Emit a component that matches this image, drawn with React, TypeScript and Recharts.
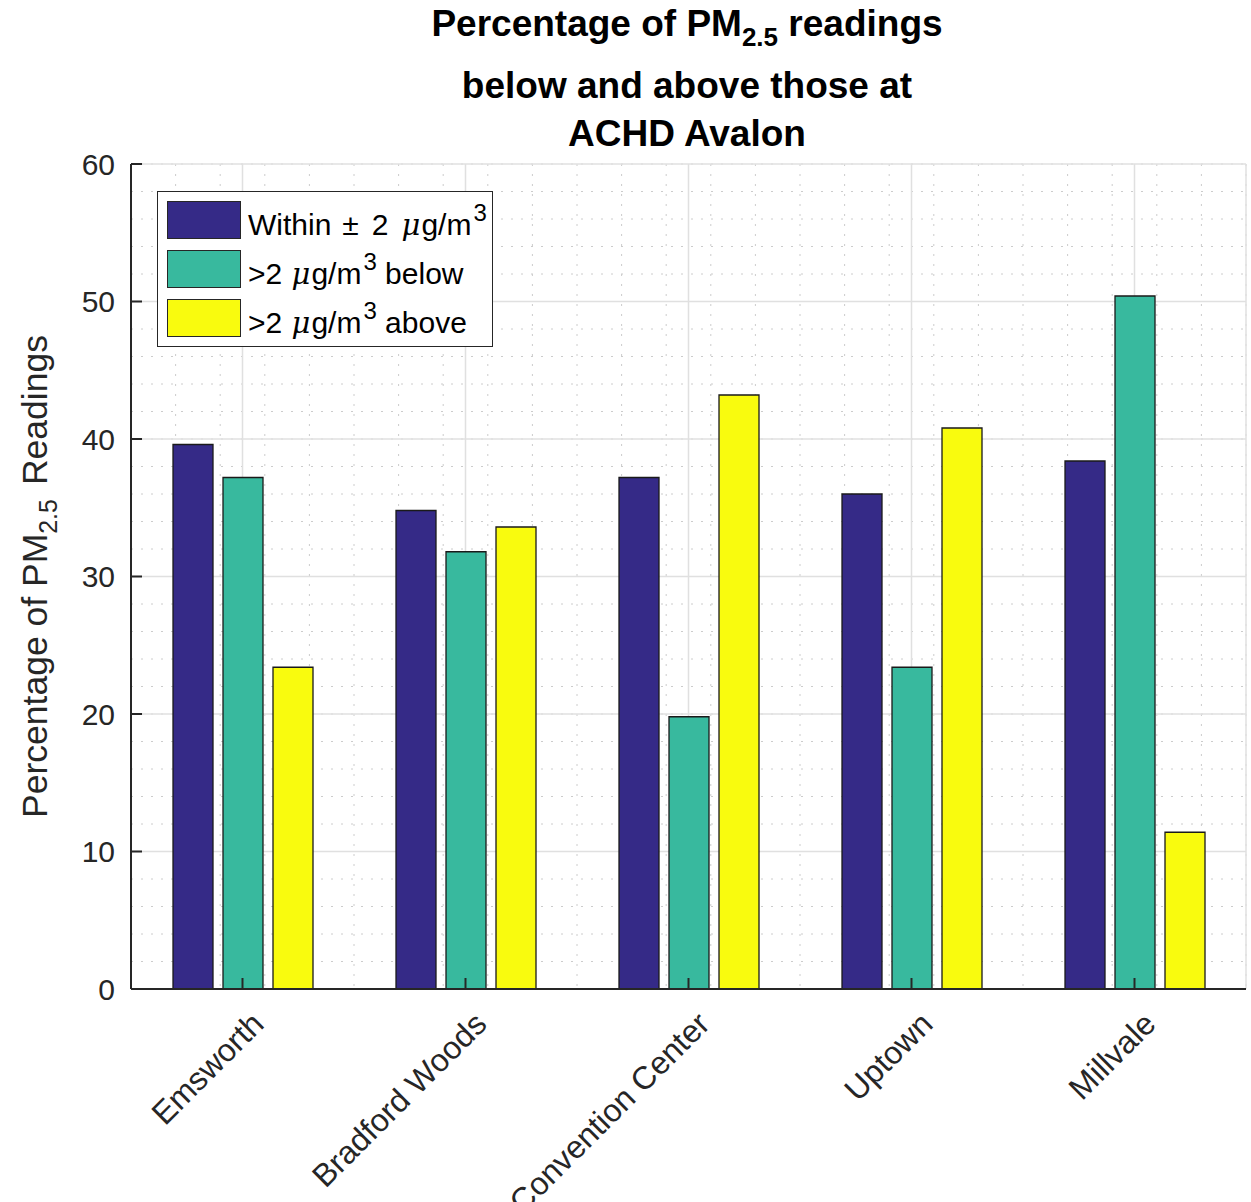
import React from 'react';
import { BarChart, Bar, XAxis, YAxis, CartesianGrid, Legend } from 'recharts';

const sites = ['Emsworth', 'Bradford Woods', 'Convention Center', 'Uptown', 'Millvale'];
const withinVals = [39.6, 34.8, 37.2, 36.0, 38.4];
const belowVals = [37.2, 31.8, 19.8, 23.4, 50.4];
const aboveVals = [23.4, 33.6, 43.2, 40.8, 11.4];
const yTicks = [0, 10, 20, 30, 40, 50, 60];

const FONT = '"Liberation Sans", Arial, Helvetica, sans-serif';
const AXIS = '#262626';
const COLORS = { within: '#352A87', below: '#38B99E', above: '#F9FB0E' };

const data = sites.map((site, i) => ({
  site,
  within: withinVals[i],
  below: belowVals[i],
  above: aboveVals[i],
}));

// minor dotted grid: 5 per category, 5 per major y step
const minorX = ({ offset }: any) =>
  Array.from({ length: 26 }, (_, k) => offset.left + (offset.width * k) / 25);
const minorY = ({ offset }: any) =>
  Array.from({ length: 31 }, (_, k) => offset.top + (offset.height * k) / 30);

const XTick = ({ x, y, payload }: any) => (
  <text
    transform={`translate(${x + 23},${y + 37}) rotate(-45)`}
    textAnchor="end"
    fontSize={32}
    fontFamily={FONT}
    fill={AXIS}
  >
    {payload.value}
  </text>
);

const YLabel = ({ viewBox }: any) => {
  const cx = viewBox.x - 24;
  const cy = viewBox.y + viewBox.height / 2;
  return (
    <text
      x={cx}
      y={cy}
      transform={`rotate(-90, ${cx}, ${cy})`}
      textAnchor="middle"
      fontSize={35.5}
      fontFamily={FONT}
      fill={AXIS}
    >
      Percentage of PM<tspan fontSize={25} dy={10}>2.5</tspan>
      <tspan dy={-10} dx={14}>Readings</tspan>
    </text>
  );
};

const Unit = () => (
  <>
    <i style={{ fontFamily: '"DejaVu Serif", serif', fontSize: 29, marginLeft: 1, marginRight: 1 }}>μ</i>g/m
    <span style={{ fontSize: 24, position: 'relative', top: -14, marginLeft: 2 }}>3</span>
  </>
);

const legendRows = [
  {
    key: 'within',
    label: (
      <>
        Within<span style={{ margin: '0 13px 0 11px' }}>±</span>2<span style={{ marginLeft: 12 }} />
        <Unit />
      </>
    ),
  },
  { key: 'below', label: <>&gt;2 <Unit /> below</> },
  { key: 'above', label: <>&gt;2 <Unit /> above</> },
];

const LegendBox = () => (
  <div
    style={{
      width: 336,
      height: 156,
      boxSizing: 'border-box',
      border: `1.5px solid ${AXIS}`,
      background: '#fff',
      position: 'relative',
      fontFamily: FONT,
      fontSize: 30,
      color: '#000',
    }}
  >
    {legendRows.map((r, i) => (
      <div key={r.key} style={{ position: 'absolute', left: 9, top: 9 + i * 49 }}>
        <div
          style={{
            position: 'absolute',
            left: 0,
            top: 0,
            width: 74,
            height: 38,
            boxSizing: 'border-box',
            background: COLORS[r.key as keyof typeof COLORS],
            border: `1.5px solid ${AXIS}`,
          }}
        />
        <div style={{ position: 'absolute', left: 81, top: 5, whiteSpace: 'nowrap', lineHeight: '38px' }}>
          {r.label}
        </div>
      </div>
    ))}
  </div>
);

const Title = () => (
  <svg width={1251} height={160} style={{ position: 'absolute', left: 0, top: 0 }}>
    <g fontFamily={FONT} fontWeight="bold" fontSize={37} textAnchor="middle" fill="#000">
      <text x={687} y={36}>
        Percentage of PM<tspan fontSize={26} dy={10}>2.5</tspan>
        <tspan dy={-10}> readings</tspan>
      </text>
      <text x={687} y={98}>below and above those at</text>
      <text x={687} y={146}>ACHD Avalon</text>
    </g>
  </svg>
);

export default function App() {
  const tickStyle = { fontSize: 30, fontFamily: FONT, fill: AXIS };
  const axisLine = { stroke: AXIS, strokeWidth: 2 };
  return (
    <div style={{ position: 'absolute', left: 0, top: 0, width: 1251, height: 1202, background: '#fff' }}>
      <BarChart
        width={1251}
        height={1202}
        data={data}
        margin={{ top: 164, right: 5, left: 71, bottom: 13 }}
        barSize={40}
        barGap={10}
      >
        <CartesianGrid
          xAxisId="b"
          yAxisId="l"
          stroke="#cccccc"
          strokeDasharray="2 8"
          verticalCoordinatesGenerator={minorX}
          horizontalCoordinatesGenerator={minorY}
        />
        <CartesianGrid xAxisId="b" yAxisId="l" stroke="#e0e0e0" strokeWidth={1.5} />
        <Bar xAxisId="b" yAxisId="l" dataKey="within" name="Within ± 2 μg/m3" fill={COLORS.within} stroke="#1a1a1a" strokeWidth={1.3} isAnimationActive={false} />
        <Bar xAxisId="b" yAxisId="l" dataKey="below" name=">2 μg/m3 below" fill={COLORS.below} stroke="#1a1a1a" strokeWidth={1.3} isAnimationActive={false} />
        <Bar xAxisId="b" yAxisId="l" dataKey="above" name=">2 μg/m3 above" fill={COLORS.above} stroke="#1a1a1a" strokeWidth={1.3} isAnimationActive={false} />
        <XAxis
          xAxisId="b"
          dataKey="site"
          height={200}
          interval={0}
          tickSize={-11}
          tickMargin={11}
          tick={<XTick />}
          axisLine={axisLine}
          tickLine={axisLine}
        />
        <XAxis
          xAxisId="t"
          dataKey="site"
          orientation="top"
          height={0}
          interval={0}
          tickSize={-11}
          tick={false}
          axisLine={axisLine}
          tickLine={axisLine}
        />
        <YAxis
          yAxisId="l"
          width={60}
          domain={[0, 60]}
          ticks={yTicks}
          tickSize={-11}
          tickMargin={27}
          tick={tickStyle}
          axisLine={axisLine}
          tickLine={axisLine}
          label={{ content: (p: any) => <YLabel viewBox={p.viewBox} /> }}
        />
        <YAxis
          yAxisId="r"
          orientation="right"
          width={0}
          domain={[0, 60]}
          ticks={yTicks}
          tickSize={-11}
          tick={false}
          axisLine={axisLine}
          tickLine={axisLine}
        />
        <Legend
          layout="horizontal"
          verticalAlign="middle"
          align="center"
          content={() => <LegendBox />}
          wrapperStyle={{ left: 157, top: 191, width: 336, height: 156 }}
        />
      </BarChart>
      <Title />
    </div>
  );
}
